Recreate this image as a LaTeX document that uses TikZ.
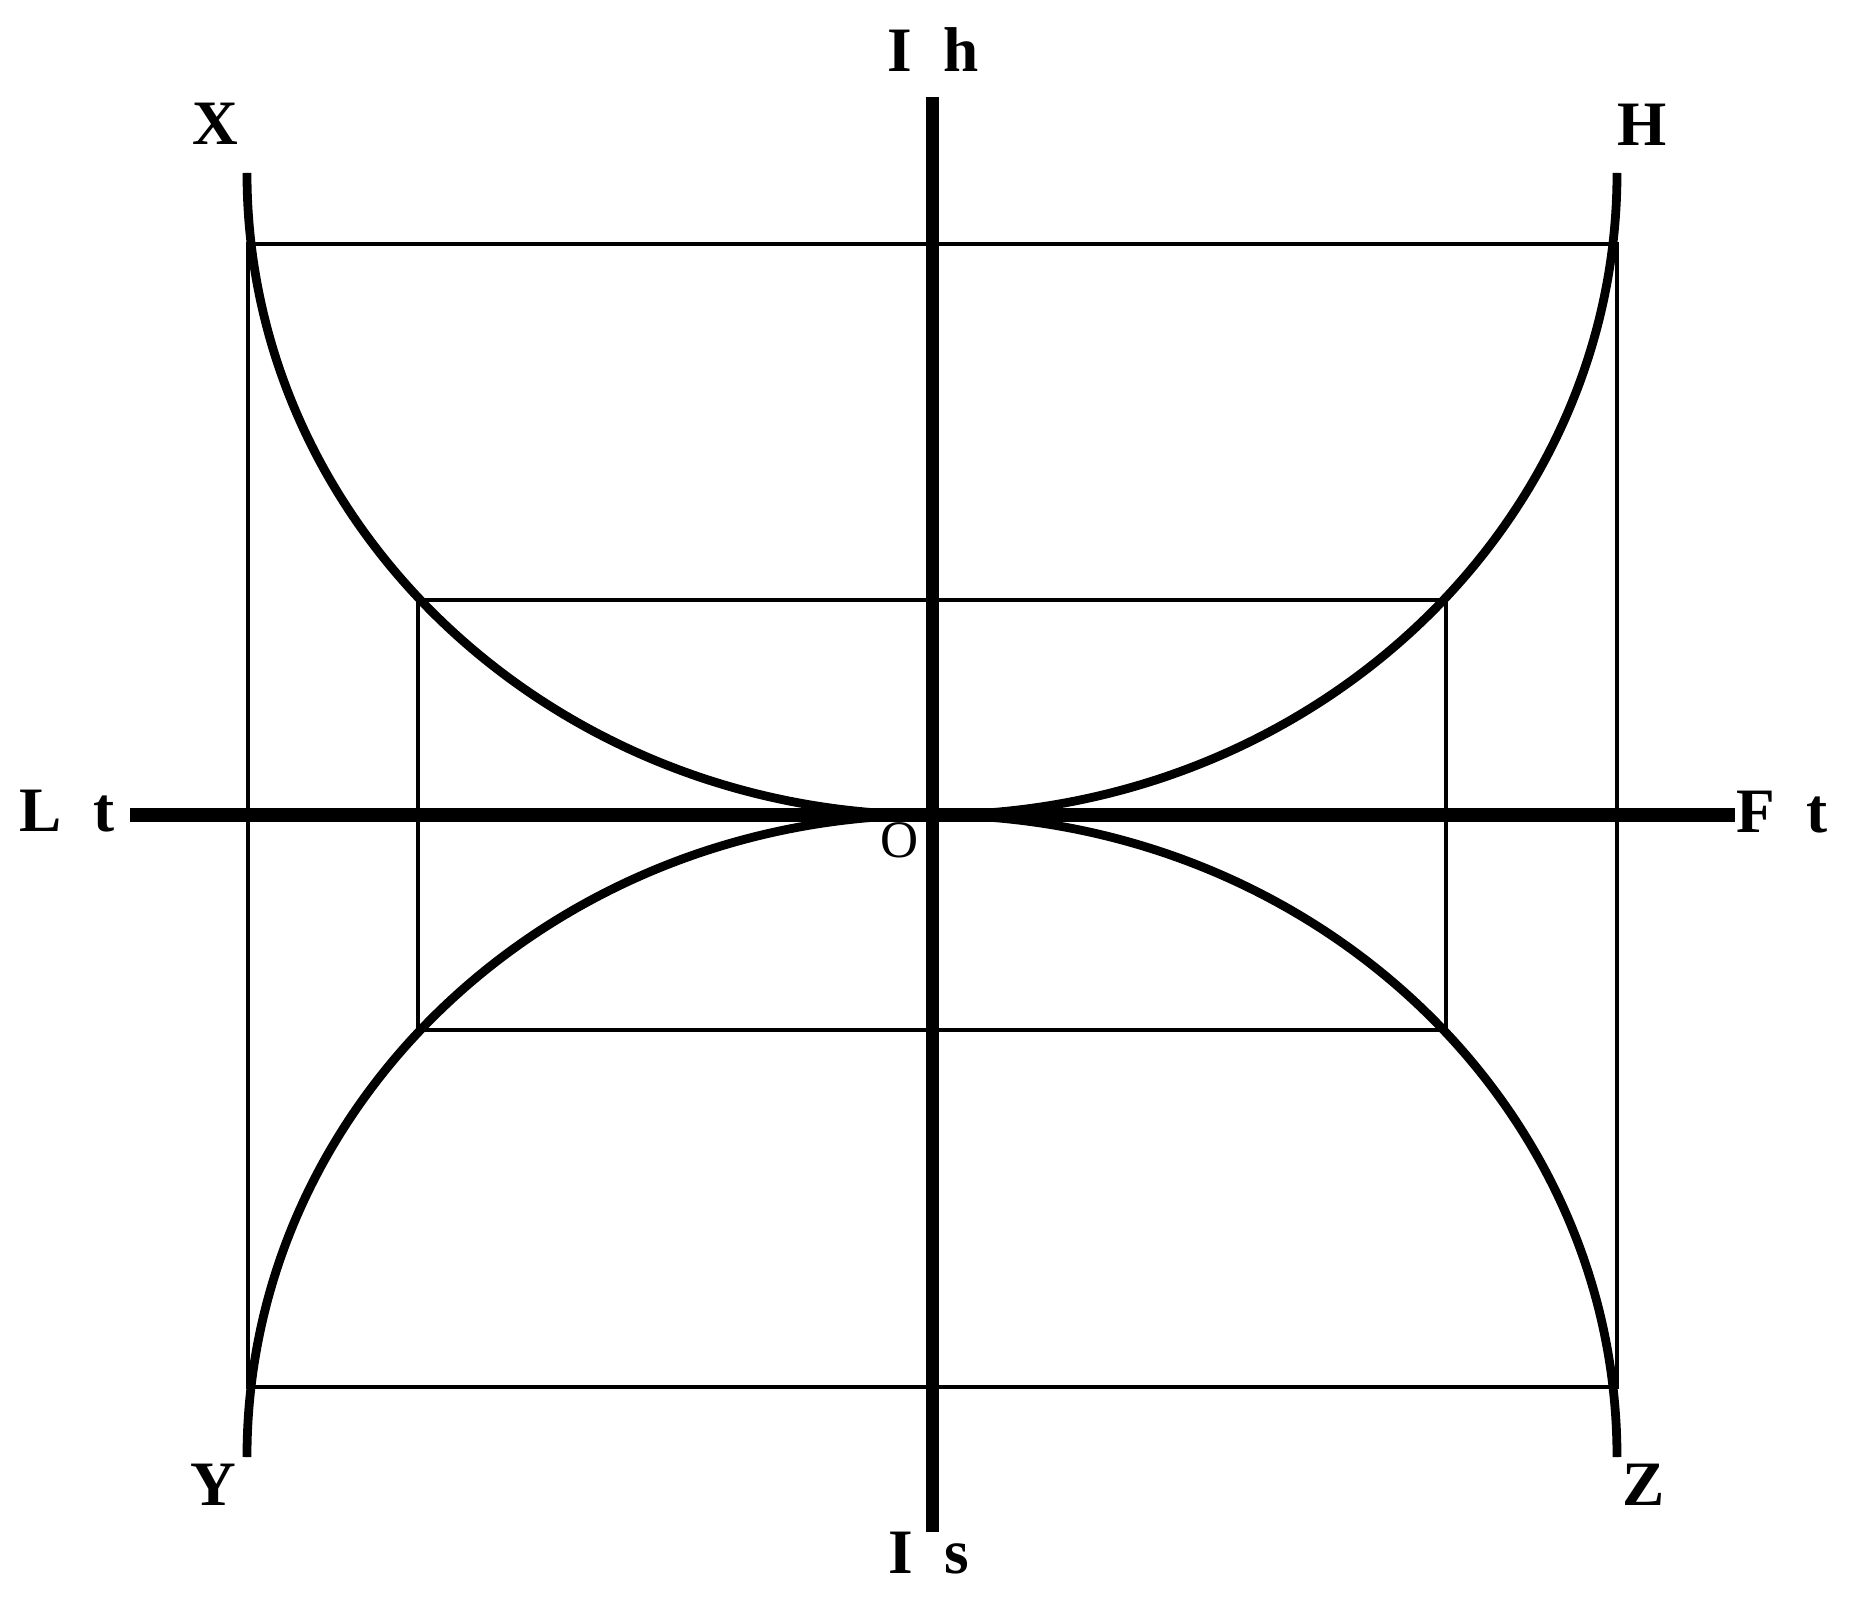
\documentclass[tikz,border=0pt]{standalone}
\usepackage{fontspec}
\setmainfont{Liberation Serif}
\usetikzlibrary{positioning}

\begin{document}
\begin{tikzpicture}[axis/.style={line width=3.7pt},
        curve/.style={line width=2.5pt},
        frame/.style={line width=1.1pt},
        lab/.style={font=\fontsize{18}{20}\selectfont\bfseries, anchor=base, inner sep=0pt}]
        \useasboundingbox (-9.32,-7.96) rectangle (9.19,8.15);

        \coordinate (O) at (0,0);
        \coordinate (top) at (0,7.18);
        \coordinate (bot) at (0,-7.17);
        \coordinate (lft) at (-8.02,0);
        \coordinate (rgt) at (8.03,0);

        % frames
        \coordinate (out1) at (-6.84,5.71);
        \coordinate (out2) at (6.85,-5.72);
        \coordinate (in1) at (-5.14,2.15);
        \coordinate (in2) at (5.14,-2.15);
        \draw[frame] (out1) rectangle (out2);
        \draw[frame] (in1) rectangle (in2);

        % curves
        \coordinate (cX) at (-6.85,6.42);
        \coordinate (cY) at (-6.85,-6.42);
        \draw[curve] (cX) arc[start angle=180, end angle=270, x radius=6.85, y radius=6.42];
        \draw[curve] (O) arc[start angle=270, end angle=360, x radius=6.85, y radius=6.42];
        \draw[curve] (cY) arc[start angle=180, end angle=90, x radius=6.85, y radius=6.42];
        \draw[curve] (O) arc[start angle=90, end angle=0, x radius=6.85, y radius=6.42];

        % axes
        \draw[axis] (top) -- (bot);
        \draw[axis] (lft) -- (rgt);

        \node[lab] (Ih) at (0.01,7.43) {I\hspace{0.5em}h};
        \node[lab] (Is) at (-0.03,-7.58) {I\hspace{0.5em}s};
        \node[lab] (Lt) at (-8.65,-0.17) {L\hspace{0.5em}t};
        \node[lab] (Ft) at (8.50,-0.18) {F\hspace{0.5em}t};
        \node[lab] (X) at (-7.17,6.70) {X};
        \node[lab] (H) at (7.10,6.69) {H};
        \node[lab] (Y) at (-7.19,-6.90) {Y};
        \node[lab] (Z) at (7.12,-6.90) {Z};
        \node[lab, font=\fontsize{15}{17}\selectfont] (o) at (-0.32,-0.43) {O};
      \end{tikzpicture}
\end{document}
